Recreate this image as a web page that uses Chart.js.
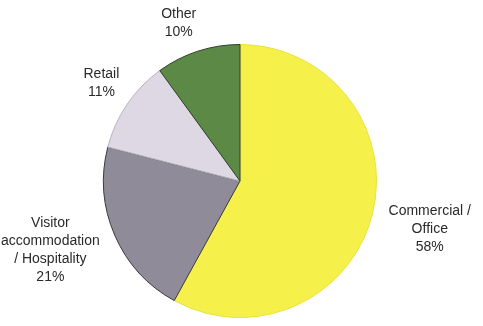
<!DOCTYPE html>
<html>
<head>
<meta charset="utf-8">
<script src="https://cdn.jsdelivr.net/npm/chart.js@4"></script>
<style>
  html, body { margin: 0; padding: 0; background: #ffffff; }
  #wrap { width: 483px; height: 326px; position: relative; }
</style>
</head>
<body>
<div id="wrap"><canvas id="landUseChart" width="483" height="326"></canvas></div>
<script>
// Land use split (percent of floor space)
const categories = ['Commercial /\nOffice', 'Visitor\naccommodation\n/ Hospitality', 'Retail', 'Other'];
const shares = [58, 21, 11, 10];
const sliceColors = ['#f5f04a', '#8f8b99', '#ddd8e3', '#5c8a46'];
const sliceBorders = ['#e6e240', '#3a3a3a', '#b8b4be', '#2f3f28'];

// Outside labels: name lines plus the percent, pushed out along each slice's mid angle
const outsideLabels = {
    id: 'outsideLabels',
    afterDatasetsDraw(chart, args, opts) {
        const ctx = chart.ctx;
        const meta = chart.getDatasetMeta(0);
        const lineHeight = 18;
        const nudge = opts.nudge || [];
        ctx.save();
        ctx.font = '14px "Liberation Sans", Arial, sans-serif';
        ctx.fillStyle = '#2a2a2a';
        ctx.textAlign = 'center';
        ctx.textBaseline = 'middle';
        meta.data.forEach((arc, i) => {
            const lines = categories[i].split('\n').concat([shares[i] + '%']);
            const mid = (arc.startAngle + arc.endAngle) / 2;
            const cos = Math.cos(mid), sin = Math.sin(mid);
            const w = Math.max(...lines.map(l => ctx.measureText(l).width));
            const h = lines.length * lineHeight;
            const dist = arc.outerRadius + 12;
            const [nx, ny] = nudge[i] || [0, 0];
            const cx = arc.x + cos * dist + cos * w / 2 + nx;
            const cy = arc.y + sin * dist + sin * h / 2 + ny;
            lines.forEach((line, k) => {
                ctx.fillText(line, cx, cy - h / 2 + lineHeight / 2 + k * lineHeight);
            });
        });
        ctx.restore();
    }
};

new Chart(document.getElementById('landUseChart'), {
    type: 'pie',
    data: {
        labels: categories,
        datasets: [{
            data: shares,
            backgroundColor: sliceColors,
            borderColor: sliceBorders,
            borderWidth: 1
        }]
    },
    options: {
        responsive: false,
        animation: false,
        layout: { padding: { top: 44, bottom: 8, left: 103, right: 106 } },
        plugins: {
            legend: { display: false },
            tooltip: { enabled: false },
            outsideLabels: { nudge: [[6, 4], [-8, -4], [-1, -4], [-10, 0]] }
        }
    },
    plugins: [outsideLabels]
});
</script>
</body>
</html>
